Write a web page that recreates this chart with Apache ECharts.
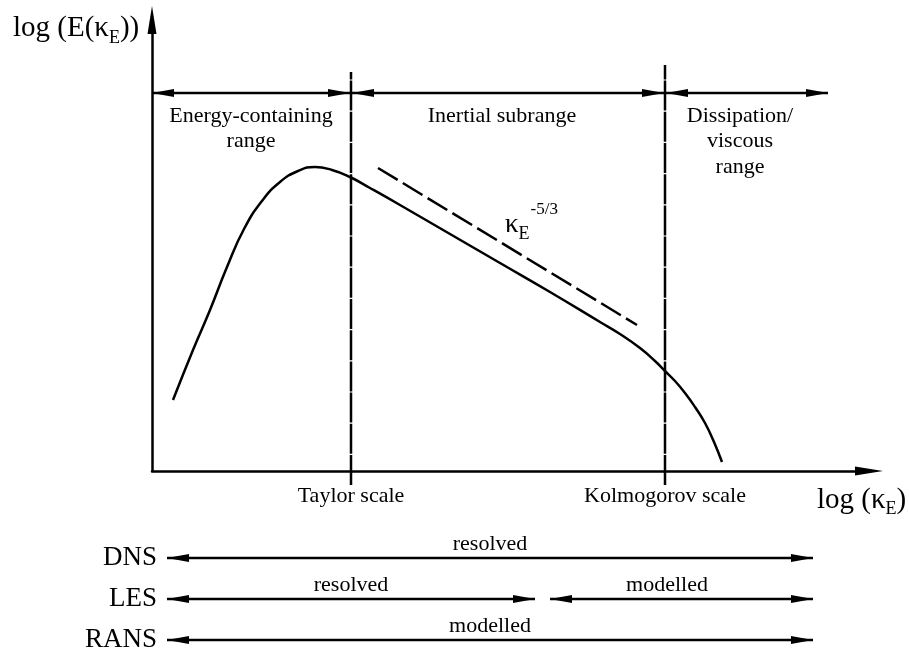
<!DOCTYPE html>
<html>
<head>
<meta charset="utf-8">
<script src="https://cdn.jsdelivr.net/npm/echarts@6/dist/echarts.min.js"></script>
<style>
html,body{margin:0;padding:0;background:#fff;}
#c{width:909px;height:652px;}
</style>
</head>
<body>
<div id="c"></div>
<script>
// ---------------- DATA (schematic log units) ----------------
const spectrumX = [2.1, 4.1, 5.8, 7.5, 9.2, 11.0, 12.8, 14.6, 16.3, 18.0, 19.8, 21.8, 24.8, 29.8, 34.8, 39.8, 44.8, 46.8, 48.8, 50.3, 51.3, 52.3, 53.3, 54.3, 55.3, 56.2, 57.0];
const spectrumY = [7.1, 12.1, 16.1, 20.4, 24.2, 27.0, 28.9, 30.0, 30.4, 30.1, 29.4, 28.3, 26.6, 23.7, 20.8, 17.9, 14.9, 13.7, 12.3, 11.0, 10.0, 9.0, 7.8, 6.4, 4.8, 2.9, 0.9];
const slopeX = [22.6, 48.5];
const slopeY = [30.3, 14.6];
const scaleNames = ['Taylor scale', 'Kolmogorov scale'];
const scaleX = [19.9, 51.3];
const scaleLineBottom = [-1.4, -1.4];
const scaleLineTop = [39.9, 40.6];
const rangeStart = [0, 20.0, 51.4];
const rangeEnd = [19.8, 51.2, 67.6];
const rangeNames = [['Energy-containing', 'range'], ['Inertial subrange'], ['Dissipation/', 'viscous', 'range']];
const rangeLabelX = [9.9, 35.0, 58.8];
const methods = ['DNS', 'LES', 'RANS'];
const segRow = [0, 1, 1, 2];
const segStart = [1.5, 1.5, 39.8, 1.5];
const segEnd = [66.1, 38.3, 66.1, 66.1];
const segLabel = ['resolved', 'resolved', 'modelled', 'modelled'];
const segLabelX = [33.8, 19.9, 51.5, 33.8];

// ---------------- LAYOUT / STYLE ----------------
const FONT = "'Liberation Serif','Times New Roman',serif";
const INK = '#000';
const LW = 2.5;
const RANGE_BAR_Y = 37.8;
const ROW_Y = [-8.7, -12.8, -16.9];
const mctx = document.createElement('canvas').getContext('2d');
function tw(t, s) { mctx.font = s + 'px ' + FONT; return mctx.measureText(t).width; }
function txt(t, x, y, s, align) {
  return { type: 'text', x: x, y: y, style: { text: t, fontSize: s, fontFamily: FONT, fill: INK, align: align || 'center', verticalAlign: 'middle' } };
}
function pieces(list, x0, yMid) {
  let x = x0; const out = [];
  list.forEach(function (p) { out.push(txt(p[0], x, yMid + p[2], p[1], 'left')); x += tw(p[0], p[1]); });
  return out;
}
function head(tip, ux, uy, L, W) {
  const nx = -uy, ny = ux;
  return { type: 'polygon', shape: { points: [[tip[0], tip[1]], [tip[0] - ux * L + nx * W, tip[1] - uy * L + ny * W], [tip[0] - ux * L - nx * W, tip[1] - uy * L - ny * W]] }, style: { fill: INK } };
}
function dblArrow(p1, p2) {
  const dx = p2[0] - p1[0], dy = p2[1] - p1[1], len = Math.hypot(dx, dy);
  const ux = dx / len, uy = dy / len;
  return [
    { type: 'line', shape: { x1: p1[0], y1: p1[1], x2: p2[0], y2: p2[1] }, style: { stroke: INK, lineWidth: LW } },
    head(p2, ux, uy, 22, 4), head(p1, -ux, -uy, 22, 4)
  ];
}

const chart = echarts.init(document.getElementById('c'), null, { renderer: 'canvas' });

const option = {
  animation: false,
  backgroundColor: '#fff',
  grid: { left: 152, right: 40, top: 20, bottom: 181, containLabel: false, outerBoundsMode: 'none' },
  xAxis: {
    type: 'value', min: 0, max: 71.7,
    axisLine: { show: true, onZero: false, symbol: ['none', 'triangle'], symbolSize: [9, 28], lineStyle: { color: INK, width: LW } },
    axisTick: { show: false }, axisLabel: { show: false }, splitLine: { show: false }
  },
  yAxis: {
    type: 'value', min: 0, max: 45.1,
    axisLine: { show: true, onZero: false, symbol: ['none', 'triangle'], symbolSize: [9, 28], lineStyle: { color: INK, width: LW } },
    axisTick: { show: false }, axisLabel: { show: false }, splitLine: { show: false }
  },
  series: [
    {
      type: 'line', name: 'spectrum', data: spectrumX.map((x, i) => [x, spectrumY[i]]),
      smooth: 0.5, symbol: 'none', clip: false, lineStyle: { color: INK, width: LW }
    },
    {
      type: 'line', name: 'slope', data: slopeX.map((x, i) => [x, slopeY[i]]),
      symbol: 'none', clip: false, lineStyle: { color: INK, width: LW, type: [23, 6] }
    },
    {
      type: 'line', name: 'taylor', data: [[scaleX[0], scaleLineBottom[0]], [scaleX[0], scaleLineTop[0]]],
      symbol: 'none', clip: false, lineStyle: { color: INK, width: LW, type: [30, 1.2] }
    },
    {
      type: 'line', name: 'kolmogorov', data: [[scaleX[1], scaleLineBottom[1]], [scaleX[1], scaleLineTop[1]]],
      symbol: 'none', clip: false, lineStyle: { color: INK, width: LW, type: [30, 1.2] }
    },
    {
      type: 'custom', name: 'ranges', coordinateSystem: 'cartesian2d', clip: false,
      data: rangeStart.map((s, i) => [s, rangeEnd[i]]),
      renderItem: function (params, api) {
        const i = params.dataIndex;
        const p1 = api.coord([api.value(0), RANGE_BAR_Y]);
        const p2 = api.coord([api.value(1), RANGE_BAR_Y]);
        const children = dblArrow(p1, p2);
        const c = api.coord([rangeLabelX[i], 0]);
        rangeNames[i].forEach(function (t, k) {
          children.push(txt(t, c[0], p1[1] + 23 + k * 25.5, 22, 'center'));
        });
        return { type: 'group', children: children };
      }
    },
    {
      type: 'custom', name: 'methods', coordinateSystem: 'cartesian2d', clip: false,
      data: segStart.map((s, i) => [s, segEnd[i], segRow[i]]),
      renderItem: function (params, api) {
        const i = params.dataIndex;
        const y = ROW_Y[api.value(2)];
        const p1 = api.coord([api.value(0), y]);
        const p2 = api.coord([api.value(1), y]);
        const children = dblArrow(p1, p2);
        const lx = api.coord([segLabelX[i], y]);
        children.push(txt(segLabel[i], lx[0], p1[1] - 14, 22, 'center'));
        return { type: 'group', children: children };
      }
    },
    {
      type: 'custom', name: 'labels', coordinateSystem: 'cartesian2d', clip: false,
      data: [[0, 0]],
      renderItem: function (params, api) {
        const children = [];
        methods.forEach(function (m, r) {
          const p = api.coord([0.5, ROW_Y[r]]);
          children.push(txt(m, p[0], p[1], 27, 'right'));
        });
        scaleNames.forEach(function (n, k) {
          const p = api.coord([scaleX[k], -2.5]);
          children.push(txt(n, p[0], p[1], 22, 'center'));
        });
        const yt = api.coord([-13.9, 44.3]);
        pieces([['log (E(\u03ba', 29, 0], ['E', 18, 10], ['))', 29, 0]], yt[0], yt[1]).forEach(e => children.push(e));
        const xt = api.coord([66.5, -2.9]);
        pieces([['log (\u03ba', 29, 0], ['E', 18, 9], [')', 29, 0]], xt[0], xt[1]).forEach(e => children.push(e));
        const k = api.coord([35.3, 24.6]);
        const kw = tw('\u03ba', 27), ew = tw('E', 18);
        children.push(txt('\u03ba', k[0], k[1], 27, 'left'));
        children.push(txt('E', k[0] + kw, k[1] + 9.5, 18, 'left'));
        children.push(txt('-5/3', k[0] + kw + ew + 1, k[1] - 15, 17, 'left'));
        return { type: 'group', children: children };
      }
    }
  ]
};
chart.setOption(option);
</script>
</body>
</html>
